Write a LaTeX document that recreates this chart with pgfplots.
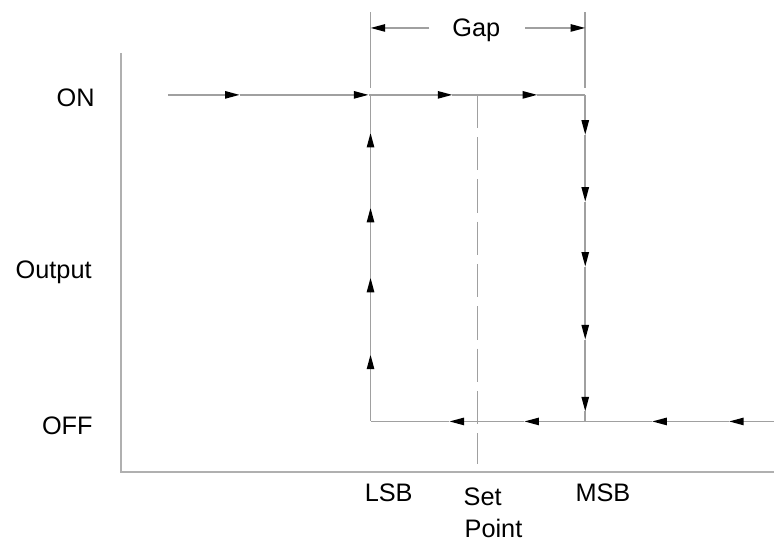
\documentclass[border=0pt]{standalone}
\usepackage{pgfplots}
\pgfplotsset{compat=1.18}
\usepackage{fontspec}
\setmainfont{Liberation Sans}
\usetikzlibrary{arrows.meta}
\definecolor{axgray}{RGB}{176,176,176}
\definecolor{lngray}{RGB}{160,160,160}
\begin{document}
\begin{tikzpicture}
\begin{axis}[
  x=0.75pt, y=0.75pt,
  xmin=0, xmax=775, ymin=0, ymax=542,
  hide axis, clip=false,
  ln/.style={lngray, line width=1.2pt, mark=none},
  arr/.style={ln, -{Triangle[length=11pt,width=5.5pt,color=black]}},
]
% invisible frame for bounding box
\addplot[draw=none, mark=none] coordinates {(0,0) (775,542)};
% axes
\addplot[axgray, line width=1.5pt, mark=none] coordinates {(121,489) (121,69) (775,69)};
% ON line (rightwards)
\addplot[arr] coordinates {(168,447) (240,447)};
\addplot[arr] coordinates {(240,447) (369,447)};
\addplot[arr] coordinates {(369,447) (453,447)};
\addplot[arr] coordinates {(453,447) (538,447)};
\addplot[ln] coordinates {(538,447) (586,447)};
% LSB vertical (upwards)
\addplot[arr] coordinates {(371,120) (371,187)};
\addplot[arr] coordinates {(371,187) (371,264)};
\addplot[arr] coordinates {(371,264) (371,334)};
\addplot[arr] coordinates {(371,334) (371,409)};
\addplot[ln] coordinates {(371,409) (371,447)};
% MSB vertical (downwards)
\addplot[arr] coordinates {(586,447) (586,407)};
\addplot[arr] coordinates {(586,407) (586,340)};
\addplot[arr] coordinates {(586,340) (586,275)};
\addplot[arr] coordinates {(586,275) (586,202)};
\addplot[arr] coordinates {(586,202) (586,130)};
\addplot[ln] coordinates {(586,130) (586,120)};
% OFF line (leftwards)
\addplot[arr] coordinates {(775,120) (730,120)};
\addplot[arr] coordinates {(730,120) (653,120)};
\addplot[arr] coordinates {(653,120) (525,120)};
\addplot[arr] coordinates {(525,120) (450,120)};
\addplot[ln] coordinates {(450,120) (371,120)};
% set point dashed
\addplot[ln, dash pattern=on 25pt off 6.75pt] coordinates {(478,447) (478,77)};
% gap extension lines
\addplot[ln] coordinates {(371,454) (371,530)};
\addplot[ln] coordinates {(586,454) (586,530)};
\addplot[arr] coordinates {(430,514) (371,514)};
\addplot[arr] coordinates {(526,514) (586,514)};
% labels
\begin{scope}[every node/.style={inner sep=0pt, font=\fontsize{19}{23}\selectfont}]
\node[anchor=base east] at (axis cs:95,435) {ON};
\node[anchor=base east] at (axis cs:92,263) {Output};
\node[anchor=base east] at (axis cs:93,107) {OFF};
\node[anchor=base west] at (axis cs:365,40) {LSB};
\node[anchor=base west] at (axis cs:576,40) {MSB};
\node[anchor=base west] at (axis cs:464,36) {Set};
\node[anchor=base west] at (axis cs:465,4) {Point};
\node[anchor=base] at (axis cs:477,505) {Gap};
\end{scope}
\end{axis}
\end{tikzpicture}
\end{document}
